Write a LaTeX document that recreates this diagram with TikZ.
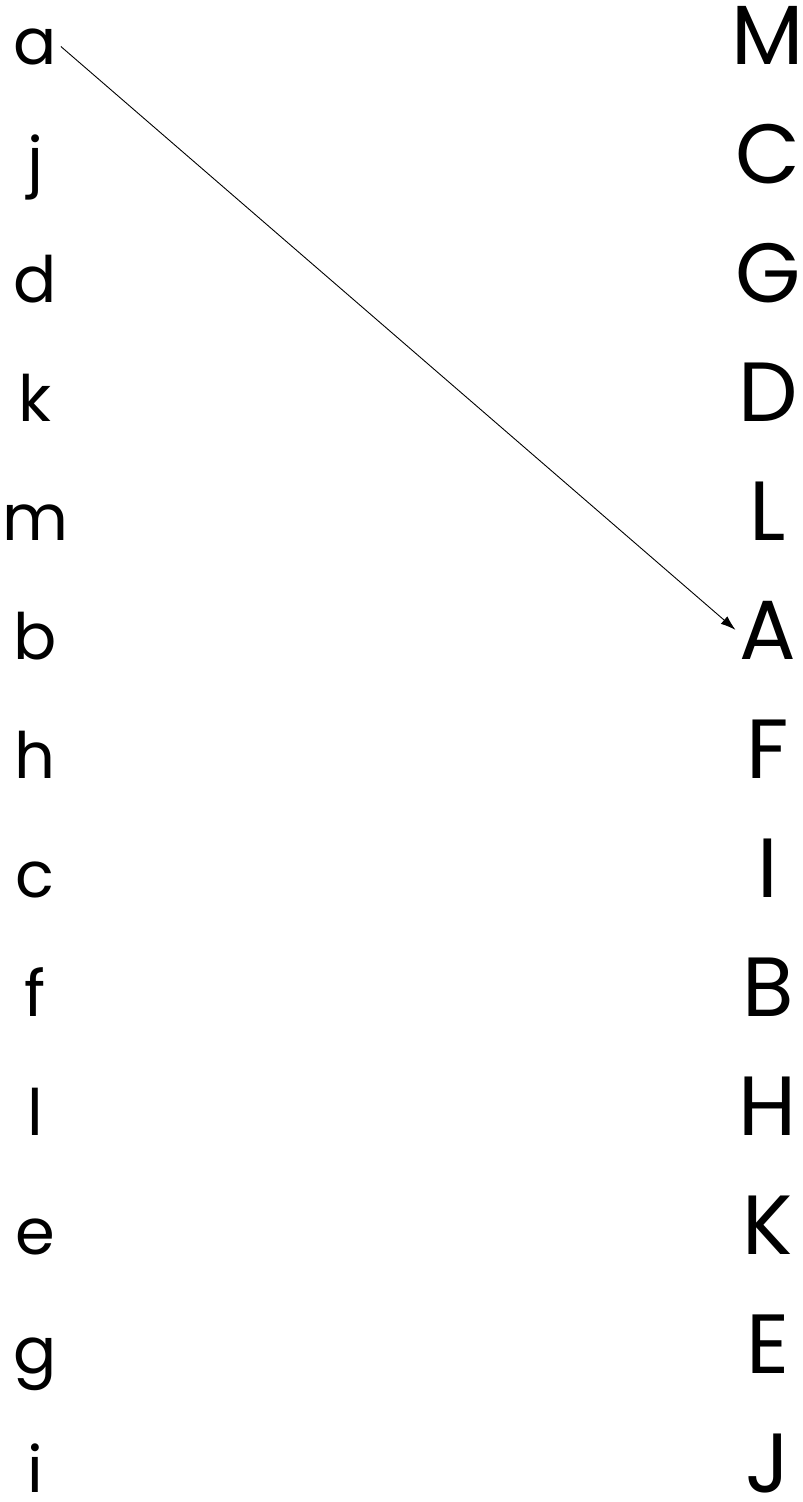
\documentclass[tikz,border=0pt]{standalone}
\usepackage{fontspec}
\setmainfont{Poppins}
\usetikzlibrary{arrows.meta}

\begin{document}
\begin{tikzpicture}[x=1pt,y=-1pt,
    lower/.style={anchor=base,inner xsep=4pt,inner ysep=0pt,font=\fontsize{64}{74}\selectfont},
    upper/.style={anchor=base,inner xsep=4pt,inner ysep=0pt,font=\fontsize{84}{96}\selectfont},
    link/.style={line width=0.9pt,-{Latex[length=15pt,width=10pt]}}]
    \useasboundingbox (0,0) rectangle (803,1502);
    % left column
    \foreach \t [count=\i from 0] in {a,j,d,k,m,b,h,c,f,l,e,g,i}
      \node[lower] (l-\t) at (35,64+119.0*\i) {\t};
    % right column
    \foreach \t [count=\i from 0] in {M,C,G,D,L,A,F,I,B,H,K,E,J}
      \node[upper] (r-\t) at (768,64+119.0*\i) {\t};
    \draw[link] (l-a.east) -- (r-A.west);
  \end{tikzpicture}
\end{document}
